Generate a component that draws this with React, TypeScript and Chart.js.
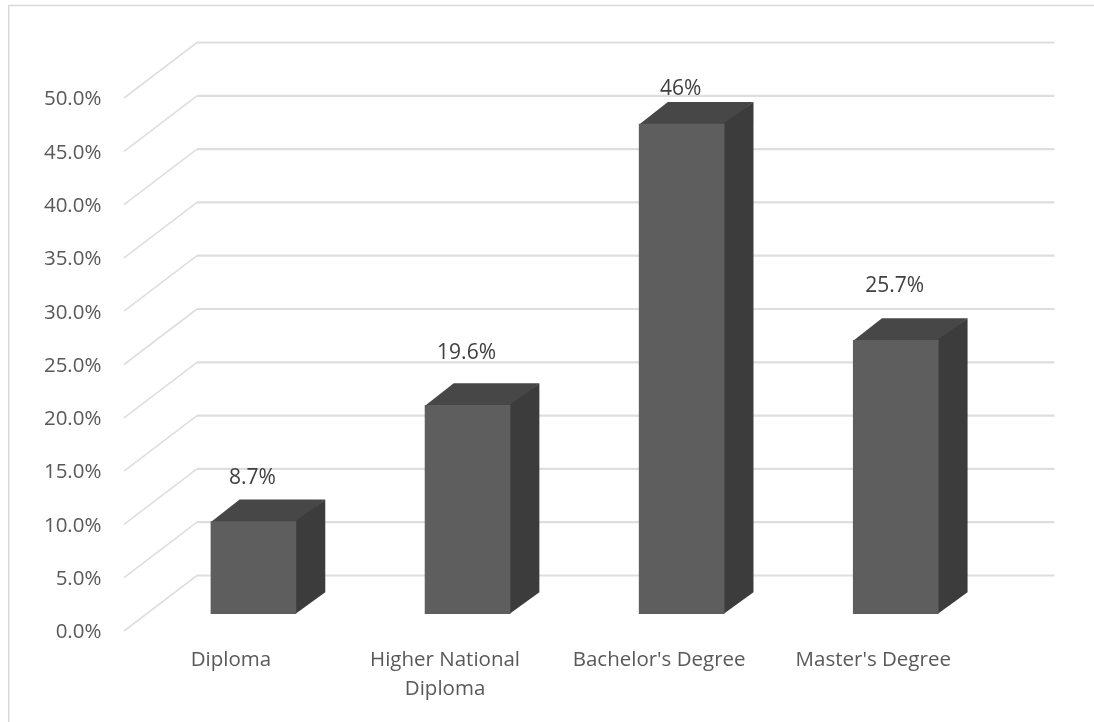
import React, { useEffect, useRef } from "react";
import { Chart, registerables } from "chart.js";

Chart.register(...registerables);

// Survey shares by highest qualification, in percent.
const categories = ["Diploma", ["Higher National", "Diploma"], "Bachelor's Degree", "Master's Degree"];
const shares = [8.7, 19.6, 46, 25.7];
const axisMax = 50;
const axisStep = 5;

const FONT = "'Open Sans', sans-serif";
const TEXT = "#595959";
const GRID = "#dedede";

// Oblique projection used for the pseudo-3D look.
const wall = { dx: 73, dy: 55.5, right: 1054.5 };
const barDepth = { dx: 29, dy: 21.7 };
const labelLift = [43, 52, 35, 54];

const backdrop = {
  id: "backdrop",
  beforeDatasetsDraw(chart: any) {
    const { ctx, scales } = chart;
    const y = scales.y;
    const left = y.right - 22.4;
    ctx.save();

    // Outer frame: left and top edges only.
    ctx.strokeStyle = "#d9d9d9";
    ctx.lineWidth = 1.5;
    ctx.beginPath();
    ctx.moveTo(8.75, 722);
    ctx.lineTo(8.75, 5.5);
    ctx.lineTo(1094, 5.5);
    ctx.stroke();

    // Floor diagonals and back-wall gridlines for each tick.
    ctx.strokeStyle = GRID;
    ctx.lineJoin = "round";
    y.ticks.forEach((tick: any) => {
      const py = y.getPixelForValue(tick.value);
      ctx.lineWidth = 1.6;
      ctx.beginPath();
      ctx.moveTo(left, py);
      ctx.lineTo(left + wall.dx, py - wall.dy);
      ctx.stroke();
      ctx.lineWidth = 2.2;
      ctx.beginPath();
      ctx.moveTo(left + wall.dx, py - wall.dy);
      ctx.lineTo(wall.right, py - wall.dy);
      ctx.stroke();
    });

    // Top and side faces of every bar, tucked slightly behind the front face.
    chart.getDatasetMeta(0).data.forEach((bar: any) => {
      const r = bar.x + bar.width / 2;
      const l = bar.x - bar.width / 2;
      const { dx, dy } = barDepth;
      ctx.fillStyle = "#474747";
      ctx.beginPath();
      ctx.moveTo(l, bar.y + 1);
      ctx.lineTo(l + dx, bar.y - dy);
      ctx.lineTo(r + dx, bar.y - dy);
      ctx.lineTo(r, bar.y + 1);
      ctx.closePath();
      ctx.fill();
      ctx.fillStyle = "#3c3c3c";
      ctx.beginPath();
      ctx.moveTo(r - 1, bar.y);
      ctx.lineTo(r + dx, bar.y - dy);
      ctx.lineTo(r + dx, bar.base - dy);
      ctx.lineTo(r - 1, bar.base);
      ctx.closePath();
      ctx.fill();
    });
    ctx.restore();
  },
  afterDatasetsDraw(chart: any) {
    const { ctx } = chart;
    ctx.save();
    ctx.font = `21px ${FONT}`;
    ctx.fillStyle = "#404040";
    ctx.textAlign = "center";
    ctx.textBaseline = "middle";
    chart.getDatasetMeta(0).data.forEach((bar: any, i: number) => {
      ctx.fillText(`${shares[i]}%`, bar.x - 1, bar.y - labelLift[i]);
    });
    ctx.restore();
  },
};

export default function App() {
  const ref = useRef<HTMLCanvasElement>(null);
  useEffect(() => {
    const chart = new Chart(ref.current!, {
      type: "bar",
      data: {
        labels: categories as any,
        datasets: [
          {
            data: shares,
            yAxisID: "yBars",
            backgroundColor: "#5e5e5e",
            borderWidth: 0,
            barPercentage: 0.4,
            categoryPercentage: 1,
          },
        ],
      },
      options: {
        responsive: false,
        animation: false,
        layout: { padding: { top: 98, right: 91.2, bottom: 0, left: 0 } },
        plugins: { legend: { display: false }, tooltip: { enabled: false } },
        scales: {
          x: {
            grid: { display: false },
            border: { display: false },
            afterFit(scale: any) {
              scale.height = 91;
            },
            ticks: {
              color: TEXT,
              font: { family: FONT, size: 20.5, lineHeight: 1.45 },
              maxRotation: 0,
              autoSkip: false,
              padding: 6,
              labelOffset: -22.5,
            },
          },
          y: {
            min: 0,
            max: axisMax,
            position: "left",
            grid: { display: false },
            border: { display: false },
            afterFit(scale: any) {
              scale.width = 146.4;
            },
            ticks: {
              stepSize: axisStep,
              color: TEXT,
              font: { family: FONT, size: 20.5 },
              padding: 37,
              labelOffset: 1.5,
              callback: (v: any) => `${Number(v).toFixed(1)}%`,
            },
          },
          yBars: {
            display: false,
            min: -1.595,
            max: axisMax - 1.595,
          },
        },
      },
      plugins: [backdrop],
    });
    return () => chart.destroy();
  }, []);
  return (
    <canvas
      ref={ref}
      width={1094}
      height={722}
      style={{ position: "fixed", left: 0, top: 0, width: 1094, height: 722 }}
    />
  );
}
